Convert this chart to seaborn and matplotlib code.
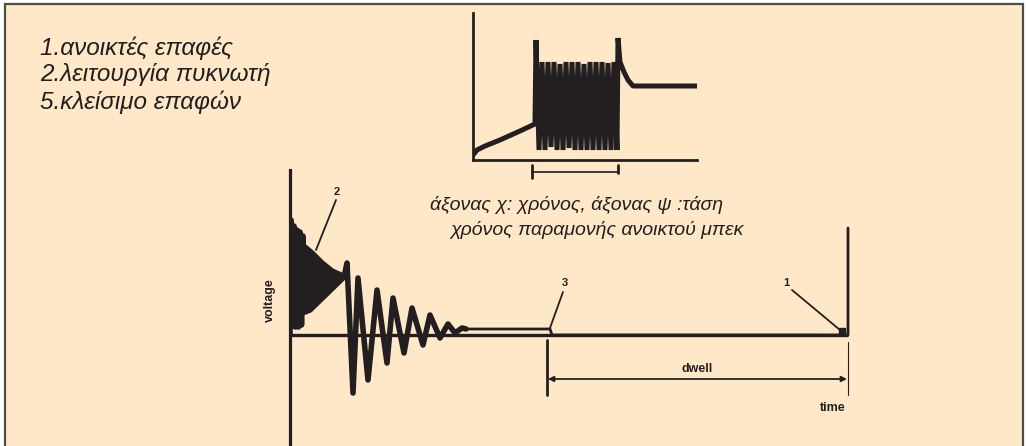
import numpy as np
import pandas as pd
import matplotlib
matplotlib.use("Agg")
import matplotlib.pyplot as plt
from matplotlib.patches import Rectangle, Polygon
import seaborn as sns

# Dwell / ignition waveform
# main trace: time (arbitrary units) and voltage (arbitrary units)
main_t = [0.0, 0.1, 0.25, 0.4, 0.55, 0.7, 0.85, 1.0, 1.15, 1.3, 1.5, 2.0,
          5.4, 5.7, 6.3, 6.8, 7.8, 8.7, 9.7, 10.3, 11.4, 12.2, 13.3, 14.0,
          15.0, 15.8, 16.5, 17.2, 17.6]
main_v = [0.0, 11.5, 0.9, 10.9, 0.8, 10.5, 0.8, 10.3, 1.0, 9.9, 2.3, 2.5,
          5.8, 7.2, -5.8, 5.7, -4.5, 4.5, -2.8, 3.7, -1.8, 2.7, -1.0, 2.0,
          -0.3, 1.1, 0.2, 0.7, 0.6]
# after the ringing: flat until the points close, then on the axis until they open
tail_t = [17.6, 26.0, 26.2, 55.8, 55.8]
tail_v = [0.6, 0.6, 0.0, 0.0, 10.7]
# capacitor ringing envelope (drawn solid in the source)
ring_t = [1.7, 2.3, 3.3, 4.3, 5.2, 5.2, 4.3, 3.3, 2.3, 1.7]
ring_v = [8.8, 8.3, 7.3, 6.5, 6.1, 5.6, 5.0, 4.0, 2.8, 2.4]

# inset trace (open injector hold time)
inset_t = [0.0, 0.4, 1.2, 2.7, 4.7, 6.2, 6.3, 6.6,
           6.9, 7.2, 7.5, 7.8, 8.1, 8.4, 8.7, 9.0, 9.3, 9.6, 9.9, 10.2, 10.5,
           10.8, 11.1, 11.4, 11.7, 12.0, 12.3, 12.6, 12.9, 13.2, 13.5, 13.8,
           14.1, 14.4, 14.5, 14.7, 15.1, 15.5, 16.0, 22.4]
inset_v = [0.5, 1.0, 1.4, 2.0, 2.9, 3.6, 12.0, 1.0,
           9.8, 1.0, 9.8, 1.3, 9.8, 1.0, 9.6, 1.0, 9.8, 1.2, 9.8, 1.0, 9.8,
           1.0, 9.6, 1.0, 9.8, 1.0, 9.8, 1.0, 9.8, 1.0, 9.7, 1.0,
           9.8, 1.0, 12.2, 9.8, 8.8, 8.0, 7.4, 7.4]

labels_top = ["1.ανοικτές επαφές", "2.λειτουργία πυκνωτή", "5.κλείσιμο επαφών"]
caption = ["άξονας χ: χρόνος, άξονας ψ :τάση", "χρόνος παραμονής ανοικτού μπεκ"]

ink = "#231f20"
paper = "#fee8c8"

sns.set_theme(style="white")
plt.rcParams["font.family"] = ["Liberation Sans", "DejaVu Sans"]

W, H = 1026, 446
fig = plt.figure(figsize=(W / 100, H / 100), dpi=100)
fig.patch.set_facecolor("white")
fig.patches.append(Rectangle((5 / W, -0.05), 1018 / W, 1.05 - 4 / H,
                             transform=fig.transFigure, facecolor=paper,
                             edgecolor="#4d4d4d", lw=1.6, zorder=-5))

# main oscilloscope trace
ax = fig.add_axes([290 / W, 0, 570 / W, 276 / H])
ax.set_xlim(0, 57)
ax.set_ylim(-11.1, 16.5)
ax.patch.set_alpha(0)
for s in ["top", "right", "bottom"]:
    ax.spines[s].set_visible(False)
ax.spines["left"].set_color(ink)
ax.spines["left"].set_linewidth(2.3)
ax.set_xticks([])
ax.set_yticks([])

ax.plot([0, 55.8], [0, 0], color=ink, lw=2.4, solid_capstyle="butt")
sns.lineplot(x=main_t, y=main_v, sort=False, estimator=None, ax=ax,
             color=ink, lw=4.0, solid_joinstyle="round")
sns.lineplot(x=tail_t, y=tail_v, sort=False, estimator=None, ax=ax,
             color=ink, lw=2.0)
ax.add_patch(Polygon(list(zip(ring_t, ring_v)), closed=True, color=ink, lw=2))
ax.plot([55.2], [0.4], marker="s", ms=5, color=ink)

# point labels with leaders
for txt, (lx, ly), (x0, y0), (x1, y1) in [
        ("2", (4.7, 14.3), (4.6, 13.5), (2.6, 8.5)),
        ("3", (27.5, 5.2), (27.3, 4.3), (26.0, 0.7)),
        ("1", (49.6, 5.2), (50.2, 4.5), (55.0, 0.5))]:
    ax.text(lx, ly, txt, fontsize=8, fontweight="bold", color=ink,
            ha="center", va="center")
    ax.plot([x0, x1], [y0, y1], color=ink, lw=1.3)

# dwell bracket
ax.plot([25.7, 25.7], [-0.5, -6.0], color=ink, lw=2)
ax.plot([55.8, 55.8], [-0.7, -6.0], color=ink, lw=0.8)
ax.annotate("", xy=(25.8, -4.4), xytext=(55.7, -4.4),
            arrowprops=dict(arrowstyle="<|-|>", color=ink, lw=1.3,
                            mutation_scale=8, shrinkA=0, shrinkB=0))
ax.text(40.7, -3.4, "dwell", fontsize=9, fontweight="bold", color=ink,
        ha="center", va="center")
ax.text(54.3, -7.3, "time", fontsize=9, fontweight="bold", color=ink,
        ha="center", va="center")
ax.text(-2.0, 3.5, "voltage", fontsize=9, fontweight="bold", color=ink,
        ha="center", va="center", rotation=90)

# inset
ins = fig.add_axes([473 / W, 286 / H, 224 / W, 147 / H])
ins.set_xlim(0, 22.4)
ins.set_ylim(0, 14.7)
ins.patch.set_alpha(0)
for s in ["top", "right"]:
    ins.spines[s].set_visible(False)
for s in ["left", "bottom"]:
    ins.spines[s].set_color(ink)
    ins.spines[s].set_linewidth(2.0)
ins.set_xticks([])
ins.set_yticks([])
sns.lineplot(x=inset_t, y=inset_v, sort=False, estimator=None, ax=ins,
             color=ink, lw=3.6, solid_joinstyle="bevel")
ins.plot([5.9, 14.5], [-1.2, -1.2], color=ink, lw=1.2, clip_on=False)
ins.plot([5.9, 5.9], [-0.5, -1.8], color=ink, lw=2, clip_on=False)
ins.plot([14.5, 14.5], [-0.5, -1.3], color=ink, lw=2, clip_on=False)

# texts
for i, s in enumerate(labels_top):
    fig.text(40 / W, 1 - (48 + 27 * i) / H, s, fontsize=17.5, style="italic",
             color=ink, ha="left", va="center")
fig.text(430 / W, 1 - 205 / H, caption[0], fontsize=14, style="italic",
         color=ink, ha="left", va="center")
fig.text(450 / W, 1 - 230 / H, caption[1], fontsize=14, style="italic",
         color=ink, ha="left", va="center")

fig.savefig("out.png", dpi=100, facecolor=fig.get_facecolor())
